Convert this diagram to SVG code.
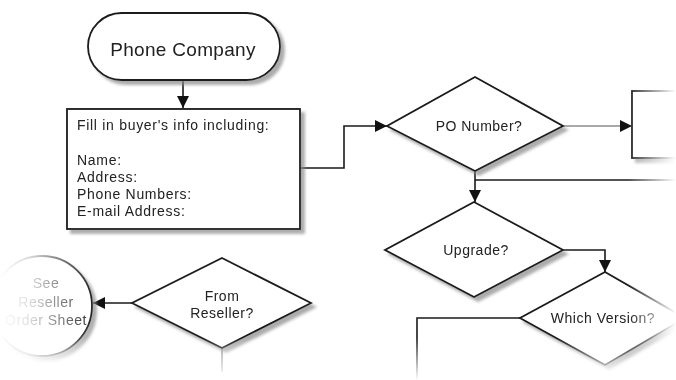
<svg xmlns="http://www.w3.org/2000/svg" width="676" height="380" viewBox="0 0 676 380">
<style>
.shape{fill:#fff;stroke:#1a1a1a;stroke-width:1.8}
.conn{fill:none;stroke:#1a1a1a;stroke-width:1.6}
.thin{fill:none;stroke:#555;stroke-width:1.1}
text{font-family:"Liberation Sans",Arial,sans-serif;fill:#222}
.lbl{font-size:14px;letter-spacing:0.5px;text-anchor:middle}
.body{font-size:14px;letter-spacing:0.7px}
</style>
<defs>
<filter id="sh" x="-10%" y="-10%" width="130%" height="140%">
<feGaussianBlur in="SourceAlpha" stdDeviation="1.5" result="b"/>
<feOffset in="b" dx="4" dy="4" result="o"/>
<feFlood flood-color="#888" flood-opacity="0.7"/>
<feComposite in2="o" operator="in" result="s"/>
<feMerge><feMergeNode in="s"/><feMergeNode in="SourceGraphic"/></feMerge>
</filter>
<marker id="arr" markerWidth="12" markerHeight="12" refX="12" refY="6" orient="auto" markerUnits="userSpaceOnUse">
<path d="M0,0 L12,6 L0,12 Z" fill="#111"/>
</marker>
<linearGradient id="fl" x1="0" y1="0" x2="1" y2="0">
<stop offset="0" stop-color="#fff" stop-opacity="1"/>
<stop offset="0.3" stop-color="#fff" stop-opacity="0.85"/>
<stop offset="1" stop-color="#fff" stop-opacity="0"/>
</linearGradient>
<linearGradient id="fr" x1="0" y1="0" x2="1" y2="0">
<stop offset="0" stop-color="#fff" stop-opacity="0"/>
<stop offset="1" stop-color="#fff" stop-opacity="1"/>
</linearGradient>
<linearGradient id="fb" x1="0" y1="0" x2="0" y2="1">
<stop offset="0" stop-color="#fff" stop-opacity="0"/>
<stop offset="1" stop-color="#fff" stop-opacity="1"/>
</linearGradient>
</defs>
<rect width="676" height="380" fill="#fff"/>

<g id="connectors">
<path class="conn" d="M183,80 V108" marker-end="url(#arr)"/>
<path class="conn" d="M300,168 H344 V126 H387" marker-end="url(#arr)"/>
<path class="thin" d="M563,126 H632" marker-end="url(#arr)"/>
<path class="conn" d="M475,171 V202" marker-end="url(#arr)"/>
<path class="conn" d="M475,180 H676" stroke-width="2.2" stroke="#444"/>
<path class="conn" d="M563,250 H605 V272" marker-end="url(#arr)"/>
<path class="conn" d="M520,318 H417 V380" stroke="#444"/>
<path class="conn" d="M132,303 H93" marker-end="url(#arr)"/>
<path class="thin" d="M222,348 V372" stroke="#888"/>
</g>

<g id="phone-company" filter="url(#sh)">
<rect class="shape" x="88" y="13" width="192" height="67" rx="33.5" ry="33.5" stroke-width="2"/>
<text x="183" y="56" text-anchor="middle" font-size="19" letter-spacing="0.3">Phone Company</text>
</g>

<g id="buyer-info" filter="url(#sh)">
<rect class="shape" x="67" y="109" width="233" height="120" stroke-width="2"/>
<text class="body" x="77" y="130">Fill in buyer's info including:</text>
<text class="body" x="77" y="165">Name:</text>
<text class="body" x="77" y="182">Address:</text>
<text class="body" x="77" y="199">Phone Numbers:</text>
<text class="body" x="77" y="216">E-mail Address:</text>
</g>

<g id="po-number" filter="url(#sh)">
<polygon class="shape" points="475,77 563,126 475,171 387,126"/>
<text class="lbl" x="479" y="131">PO Number?</text>
</g>

<g id="right-box" filter="url(#sh)">
<rect class="shape" x="632" y="91" width="80" height="67" stroke="#444" stroke-width="1.4"/>
</g>

<g id="upgrade" filter="url(#sh)">
<polygon class="shape" points="474,202 563,250 474,297 385,250"/>
<text class="lbl" x="476" y="255">Upgrade?</text>
</g>

<g id="which-version" filter="url(#sh)">
<polygon class="shape" points="605,272 685,318 605,365 520,318"/>
<text class="lbl" x="603" y="323" fill="#555">Which Version?</text>
</g>

<g id="from-reseller" filter="url(#sh)">
<polygon class="shape" points="222,258 311,303 222,348 132,303"/>
<text class="lbl" x="222" y="301">From</text>
<text class="lbl" x="222" y="318">Reseller?</text>
</g>

<g id="see-reseller" filter="url(#sh)">
<circle class="shape" cx="42" cy="306" r="50"/>
<text class="lbl" x="46" y="288">See</text>
<text class="lbl" x="46" y="307">Reseller</text>
<text class="lbl" x="46" y="325">Order Sheet</text>
</g>

<rect x="0" y="235" width="95" height="145" fill="url(#fl)"/>
<rect x="628" y="80" width="48" height="300" fill="url(#fr)"/>
<rect x="0" y="338" width="676" height="42" fill="url(#fb)"/>
</svg>
